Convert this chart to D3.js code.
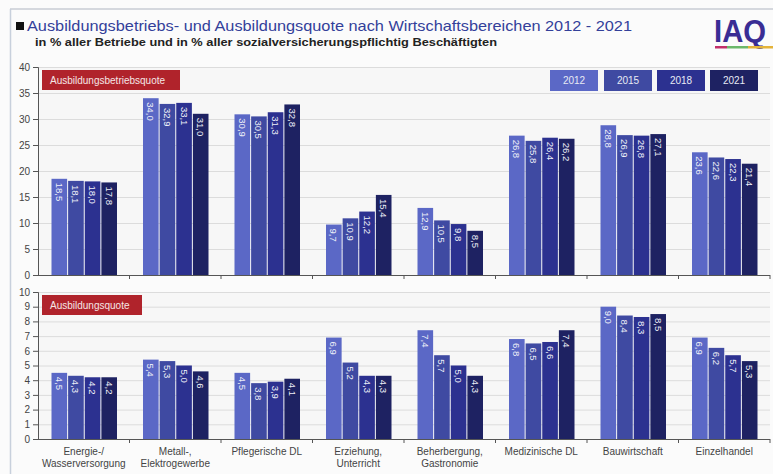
<!DOCTYPE html>
<html><head><meta charset="utf-8">
<script src="https://cdn.jsdelivr.net/npm/d3@7"></script>
<style>body{margin:0;background:#fff}svg{display:block;font-family:"Liberation Sans",Arial,sans-serif}</style>
</head><body><svg id="c" width="773" height="474"></svg>
<script>
const categories = ["Energie-/|Wasserversorgung","Metall-,|Elektrogewerbe","Pflegerische DL","Erziehung,|Unterricht","Beherbergung,|Gastronomie","Medizinische DL","Bauwirtschaft","Einzelhandel"];
const years = ["2012","2015","2018","2021"];
const betriebsquote = [
  [18.5,18.1,18.0,17.8],[34.0,32.9,33.1,31.0],[30.9,30.5,31.3,32.8],[9.7,10.9,12.2,15.4],
  [12.9,10.5,9.8,8.5],[26.8,25.8,26.4,26.2],[28.8,26.9,26.8,27.1],[23.6,22.6,22.3,21.4]];
const ausbildungsquote = [
  [4.5,4.3,4.2,4.2],[5.4,5.3,5.0,4.6],[4.5,3.8,3.9,4.1],[6.9,5.2,4.3,4.3],
  [7.4,5.7,5.0,4.3],[6.8,6.5,6.6,7.4],[9.0,8.4,8.3,8.5],[6.9,6.2,5.7,5.3]];
const topTicks = [0,5,10,15,20,25,30,35,40];
const bottomTicks = [0,1,2,3,4,5,6,7,8,9,10];
const colors = ["#5b68c6","#3f4aa2","#2c3190","#1e2262"];

const svg = d3.select("#c");
svg.append("rect").attr("x",0).attr("y",0).attr("width",773).attr("height",474).attr("fill","#fbfbfb");
svg.append("line").attr("x1",10).attr("x2",773).attr("y1",9).attr("y2",9).attr("stroke","#c8ccd4").attr("stroke-width",1.5);
svg.append("line").attr("x1",10.5).attr("x2",10.5).attr("y1",9).attr("y2",474).attr("stroke","#c8d0dc").attr("stroke-width",1.5);

svg.append("rect").attr("x",16).attr("y",22).attr("width",8).attr("height",8).attr("fill","#111");
svg.append("text").attr("x",27).attr("y",31).attr("font-size",14.5).attr("fill","#33409a")
  .attr("textLength",605).attr("lengthAdjust","spacingAndGlyphs")
  .text("Ausbildungsbetriebs- und Ausbildungsquote nach Wirtschaftsbereichen 2012 - 2021");
svg.append("text").attr("x",35).attr("y",46).attr("font-size",11).attr("font-weight","bold").attr("fill","#222")
  .attr("textLength",462).attr("lengthAdjust","spacingAndGlyphs")
  .text("in % aller Betriebe und in % aller sozialversicherungspflichtig Beschäftigten");
svg.append("text").attr("x",714).attr("y",42).attr("font-size",32).attr("font-weight","bold").attr("fill","#3a2d94")
  .attr("textLength",52).attr("lengthAdjust","spacingAndGlyphs").text("IAQ");
[["#c2306a",715,727],["#6cb86a",727,748],["#e4b33a",748,773]].forEach(s=>{
  svg.append("rect").attr("x",s[1]).attr("y",46).attr("width",s[2]-s[1]).attr("height",2.5).attr("fill",s[0]);
});

const x0 = d3.scaleBand().domain(categories).range([38,770]).paddingInner(0).paddingOuter(0);
const x1 = d3.scaleBand().domain(years).range([13.5,79]).paddingInner(0.06);

function panel(data, ticks, yTop, yBot, maxV, label, labelW){
  const y = d3.scaleLinear().domain([0,maxV]).range([yBot,yTop]);
  const g = svg.append("g");
  g.append("rect").attr("x",38).attr("y",yTop).attr("width",732).attr("height",yBot-yTop).attr("fill","#f7f7f7");
  g.selectAll(".grid").data(ticks).join("line")
    .attr("x1",38).attr("x2",770).attr("y1",d=>y(d)+0.5).attr("y2",d=>y(d)+0.5)
    .attr("stroke","#dcdcdc").attr("stroke-width",1);
  const yAxis = d3.axisLeft(y).tickValues(ticks).tickSize(5).tickPadding(3).tickFormat(d3.format("d"));
  const ya = g.append("g").attr("transform","translate(38,0)").call(yAxis);
  ya.select(".domain").attr("stroke","#555");
  ya.selectAll(".tick line").attr("stroke","#555");
  ya.selectAll("text").attr("font-size",10).attr("fill","#444").attr("font-family","Liberation Sans, Arial, sans-serif");
  const grp = g.selectAll(".grp").data(data).join("g").attr("transform",(d,i)=>`translate(${x0(categories[i])},0)`);
  grp.selectAll("rect").data(d=>d.map((v,j)=>({v,j}))).join("rect")
    .attr("x",d=>x1(years[d.j])).attr("width",x1.bandwidth())
    .attr("y",d=>y(d.v)).attr("height",d=>yBot-y(d.v)).attr("fill",d=>colors[d.j]);
  grp.selectAll("text").data(d=>d.map((v,j)=>({v,j}))).join("text")
    .attr("transform",d=>`translate(${x1(years[d.j])+x1.bandwidth()/2},${y(d.v)+4}) rotate(90)`)
    .attr("dominant-baseline","central").attr("font-size",9.5).attr("fill","#eef0f8")
    .text(d=>d3.format(".1f")(d.v).replace(".",","));
  g.append("line").attr("x1",38).attr("x2",770).attr("y1",yBot+0.5).attr("y2",yBot+0.5).attr("stroke","#555");
  g.selectAll(".xt").data(categories.slice(1).concat(["end"])).join("line")
    .attr("x1",(d,i)=>38+x0.bandwidth()*(i+1)).attr("x2",(d,i)=>38+x0.bandwidth()*(i+1))
    .attr("y1",yBot).attr("y2",yBot+4).attr("stroke","#555");
  g.append("rect").attr("x",42).attr("y",yTop+3).attr("width",labelW).attr("height",20).attr("fill","#b0232b");
  g.append("text").attr("x",50).attr("y",yTop+17).attr("font-size",10).attr("fill","#f4e6e6").text(label);
  return y;
}
panel(betriebsquote, topTicks, 67, 275, 40, "Ausbildungsbetriebsquote", 138);
panel(ausbildungsquote, bottomTicks, 292, 439, 10, "Ausbildungsquote", 100);

const lx = [550,604,657,710];
years.forEach((yr,i)=>{
  svg.append("rect").attr("x",lx[i]).attr("y",70).attr("width",48).attr("height",21).attr("fill",colors[i]);
  svg.append("text").attr("x",lx[i]+24).attr("y",84).attr("text-anchor","middle").attr("font-size",10).attr("fill","#e8eaf4").text(yr);
});

categories.forEach(c=>{
  const parts = c.split("|");
  const cx = x0(c)+x0.bandwidth()/2;
  parts.forEach((p,k)=>{
    svg.append("text").attr("x",cx).attr("y",455+k*12).attr("text-anchor","middle")
      .attr("font-size",10).attr("fill","#444").text(p);
  });
});
</script></body></html>
